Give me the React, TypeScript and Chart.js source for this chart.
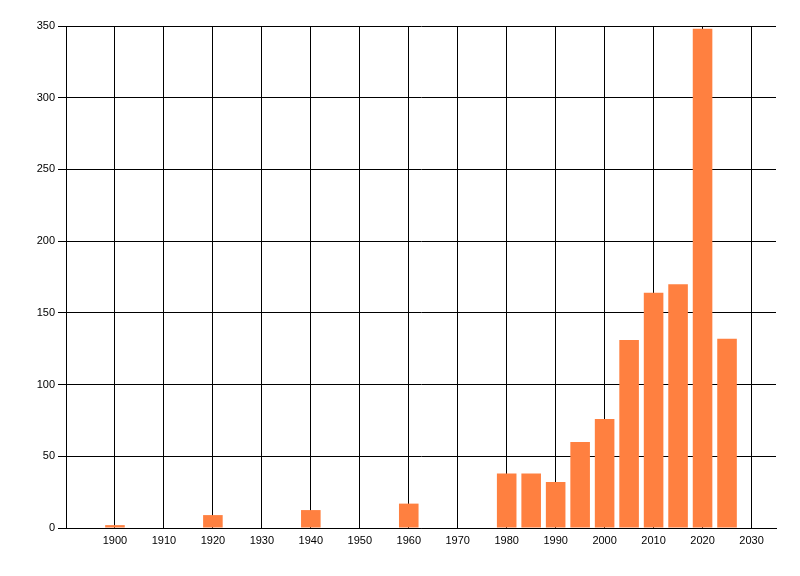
import React, { useEffect, useRef } from "react";
import { Chart, registerables } from "chart.js";

Chart.register(...registerables);

const years = [1900, 1920, 1940, 1960, 1980, 1985, 1990, 1995, 2000, 2005, 2010, 2015, 2020, 2025];
const counts = [2, 9, 12.5, 17, 38, 38, 32, 60, 76, 131, 164, 170, 348, 132];
const xTickValues = [1900, 1910, 1920, 1930, 1940, 1950, 1960, 1970, 1980, 1990, 2000, 2010, 2020, 2030];
const xMin = 1890;
const xMax = 2035;
const yMax = 350;
const yStep = 50;

export default function App() {
  const ref = useRef<HTMLCanvasElement | null>(null);

  useEffect(() => {
    if (!ref.current) return;
    const font = { family: "'Liberation Sans', Arial, sans-serif", size: 11 };
    const chart = new Chart(ref.current, {
      type: "bar",
      data: {
        datasets: [
          {
            data: years.map((x, i) => ({ x, y: counts[i] })),
            backgroundColor: "#FF8040",
            borderWidth: 0,
            barPercentage: 0.8,
            categoryPercentage: 1.0,
          },
        ],
      },
      options: {
        responsive: false,
        animation: false,
        events: [],
        layout: { padding: { left: 0, top: 26, right: 24, bottom: 0 } },
        plugins: { legend: { display: false }, tooltip: { enabled: false } },
        scales: {
          x: {
            type: "linear",
            min: xMin,
            max: xMax,
            offset: false,
            afterBuildTicks: (scale: any) => {
              scale.ticks = xTickValues.map((v) => ({ value: v }));
            },
            afterFit: (scale: any) => {
              scale.height = 48;
            },
            ticks: {
              color: "#000",
              font,
              padding: 6,
              maxRotation: 0,
              autoSkip: false,
              callback: (v: any) => String(v),
            },
            grid: { color: "#000", lineWidth: 1, drawTicks: false, offset: false },
            border: { color: "#000", width: 1 },
          },
          y: {
            min: 0,
            max: yMax,
            afterFit: (scale: any) => {
              scale.width = 66;
            },
            ticks: { stepSize: yStep, color: "#000", font, padding: 3 },
            grid: { color: "#000", lineWidth: 1, drawTicks: true, tickLength: 8 },
            border: { color: "#000", width: 1 },
          },
        },
      },
    });
    return () => chart.destroy();
  }, []);

  return (
    <div style={{ position: "fixed", left: 0, top: 0, width: 800, height: 576, background: "#fff" }}>
      <canvas ref={ref} width={800} height={576} style={{ width: 800, height: 576 }} />
    </div>
  );
}
